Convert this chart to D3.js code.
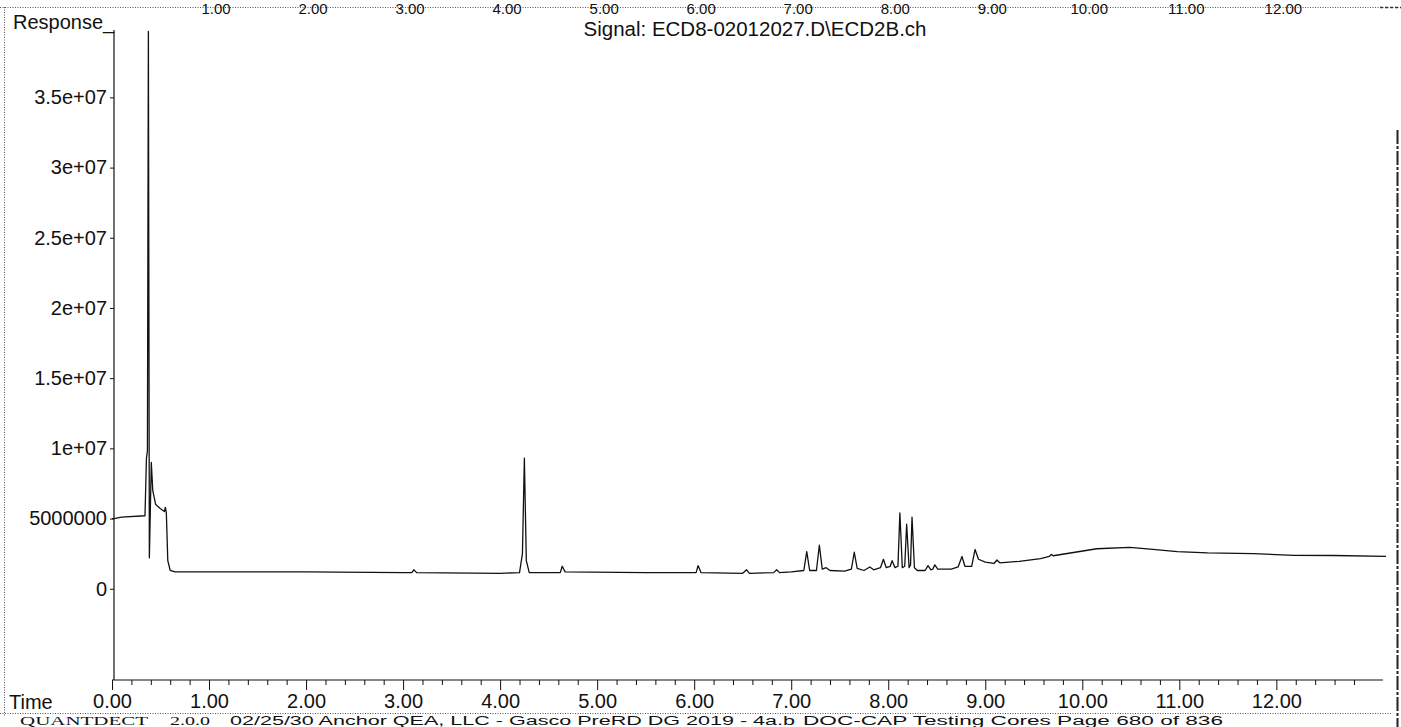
<!DOCTYPE html>
<html>
<head>
<meta charset="utf-8">
<script src="https://cdn.jsdelivr.net/npm/d3@7"></script>
<style>
  html, body { margin: 0; padding: 0; background: #fff; }
  svg { display: block; font-family: "Liberation Sans", Arial, sans-serif; }
</style>
</head>
<body>
<svg id="chart" width="1401" height="727"></svg>
<script>
// ---- data ----
const times = [
  0.00, 0.02, 0.10, 0.34, 0.355, 0.365, 0.375, 0.385, 0.405, 0.42, 0.45, 0.50, 0.54, 0.55, 0.56, 0.575, 0.60, 0.65,
  1.00, 2.00, 3.00, 3.09, 3.11, 3.14, 4.00, 4.20, 4.23, 4.25, 4.27, 4.30,
  4.62, 4.64, 4.67, 5.50, 6.02, 6.04, 6.07, 6.50, 6.54, 6.57, 6.82, 6.85, 6.88, 7.00,
  7.13, 7.16, 7.19, 7.26, 7.29, 7.32, 7.36, 7.40, 7.55, 7.62, 7.65, 7.68, 7.75, 7.81, 7.85,
  7.92, 7.95, 7.98, 8.02, 8.04, 8.07, 8.10, 8.12, 8.145, 8.17, 8.19, 8.215, 8.23, 8.245, 8.27,
  8.30, 8.38, 8.41, 8.44, 8.46, 8.48, 8.51, 8.65, 8.72, 8.76, 8.79, 8.86, 8.895, 8.93, 9.00,
  9.09, 9.12, 9.15, 9.35, 9.57, 9.66, 9.68, 9.70, 10.15, 10.49, 10.70, 10.98, 11.29, 11.76,
  12.18, 12.59, 13.13
];
const response = [
  5.0e6, 5.0e6, 5.1e6, 5.2e6, 9.3e6, 9.8e6, 3.97e7, 2.2e6, 9.0e6, 7.0e6, 6.0e6, 5.7e6, 5.5e6, 5.8e6, 5.4e6, 2.0e6, 1.3e6, 1.2e6,
  1.2e6, 1.2e6, 1.15e6, 1.15e6, 1.35e6, 1.15e6, 1.1e6, 1.15e6, 2.5e6, 9.3e6, 2.0e6, 1.15e6,
  1.15e6, 1.6e6, 1.2e6, 1.15e6, 1.15e6, 1.65e6, 1.15e6, 1.1e6, 1.35e6, 1.1e6, 1.15e6, 1.35e6, 1.15e6, 1.2e6,
  1.3e6, 2.65e6, 1.3e6, 1.3e6, 3.1e6, 1.4e6, 1.5e6, 1.3e6, 1.25e6, 1.4e6, 2.6e6, 1.45e6, 1.3e6, 1.55e6, 1.35e6,
  1.5e6, 2.1e6, 1.5e6, 1.6e6, 2.0e6, 1.5e6, 1.6e6, 5.4e6, 1.5e6, 1.6e6, 4.6e6, 1.5e6, 1.7e6, 5.1e6, 1.5e6,
  1.3e6, 1.3e6, 1.65e6, 1.35e6, 1.4e6, 1.7e6, 1.4e6, 1.4e6, 1.55e6, 2.3e6, 1.6e6, 1.6e6, 2.8e6, 2.1e6, 1.9e6,
  1.8e6, 2.05e6, 1.85e6, 1.95e6, 2.15e6, 2.3e6, 2.45e6, 2.35e6, 2.85e6, 2.95e6, 2.82e6, 2.65e6, 2.55e6, 2.5e6,
  2.38e6, 2.37e6, 2.3e6
];
const yTickValues = [0, 5e6, 1e7, 1.5e7, 2e7, 2.5e7, 3e7, 3.5e7];
const yTickLabels = ["0", "5000000", "1e+07", "1.5e+07", "2e+07", "2.5e+07", "3e+07", "3.5e+07"];
const xMajorTicks = [0, 1, 2, 3, 4, 5, 6, 7, 8, 9, 10, 11, 12];
const topCutLabels = ["1.00", "2.00", "3.00", "4.00", "5.00", "6.00", "7.00", "8.00", "9.00", "10.00", "11.00", "12.00"];
const topCutTimes = [1, 2, 3, 4, 5, 6, 7, 8, 9, 10, 11, 12];
const titleText = "Signal: ECD8-02012027.D\\ECD2B.ch";
const yAxisTitle = "Response_";
const xAxisTitle = "Time";
const footerParts = ["QUANTDECT", "2.0.0", "02/25/30 Anchor QEA, LLC - Gasco PreRD DG 2019 - 4a.b", "DOC-CAP Testing Cores Page 680 of 836"];

// ---- layout ----
const svg = d3.select("#chart");
const x = d3.scaleLinear().domain([0, 13.13]).range([112, 1386]);
const y = d3.scaleLinear().domain([-6.5e6, 3.98e7]).range([680, 30]);
const ink = "#111";

// dotted page borders
const dotted = svg.append("g").attr("stroke", "#555").attr("stroke-width", 1).attr("stroke-dasharray", "1,1.5").attr("fill", "none");
dotted.append("line").attr("x1", 0).attr("x2", 1401).attr("y1", 7.5).attr("y2", 7.5);
dotted.append("line").attr("x1", 4.5).attr("x2", 4.5).attr("y1", 7).attr("y2", 717);
dotted.append("line").attr("x1", 0).attr("x2", 1392).attr("y1", 713.5).attr("y2", 713.5);
svg.append("line").attr("x1", 1380).attr("x2", 1401).attr("y1", 7.5).attr("y2", 7.5)
  .attr("stroke", "#333").attr("stroke-width", 1.5).attr("stroke-dasharray", "3,2");
svg.append("line").attr("x1", 1397.5).attr("x2", 1397.5).attr("y1", 130).attr("y2", 727)
  .attr("stroke", "#222").attr("stroke-width", 2).attr("stroke-dasharray", "14,2,3,2");

// labels at very top (remnant of the previous chart's axis)
svg.append("g").selectAll("text").data(topCutTimes).join("text")
  .attr("x", d => x(d) + 7).attr("y", 14)
  .attr("text-anchor", "middle").attr("font-size", 15).attr("fill", ink)
  .text((d, i) => topCutLabels[i]);

// titles
svg.append("text").attr("x", 13).attr("y", 29).attr("font-size", 20).attr("fill", ink).text(yAxisTitle);
svg.append("text").attr("x", 755).attr("y", 36).attr("text-anchor", "middle").attr("font-size", 20.5).attr("fill", ink).text(titleText);
svg.append("text").attr("x", 9).attr("y", 709).attr("font-size", 20).attr("fill", ink).text(xAxisTitle);

// y axis
const yAxis = d3.axisLeft(y).tickValues(yTickValues).tickSize(4).tickPadding(3)
  .tickFormat((d, i) => yTickLabels[i]);
const gy = svg.append("g").attr("transform", "translate(114,0)").call(yAxis);
gy.select(".domain").remove();
gy.append("line").attr("x1", 0).attr("x2", 0).attr("y1", 30).attr("y2", 680).attr("stroke", ink).attr("stroke-width", 1.2);
gy.selectAll(".tick line").attr("stroke", ink);
gy.selectAll(".tick text").attr("font-size", 20).attr("font-family", "Liberation Sans, Arial, sans-serif").attr("fill", ink);

// x axis: minor ticks every 0.2 min, major each minute
const minorTicks = d3.range(0, 66).map(i => +(i * 0.2).toFixed(1)).filter(v => Math.abs(v - Math.round(v)) > 1e-6 && v <= 13.1);
const gxMinor = svg.append("g").attr("transform", "translate(0,680)")
  .call(d3.axisBottom(x).tickValues(minorTicks).tickSize(5).tickFormat(""));
gxMinor.select(".domain").remove();
gxMinor.selectAll(".tick line").attr("stroke", ink);
const gx = svg.append("g").attr("transform", "translate(0,680)")
  .call(d3.axisBottom(x).tickValues(xMajorTicks).tickSize(10).tickPadding(4).tickFormat(d3.format(".2f")));
gx.select(".domain").remove();
gx.append("line").attr("x1", 112).attr("x2", 1383).attr("y1", 0).attr("y2", 0).attr("stroke", ink).attr("stroke-width", 1.2);
gx.selectAll(".tick line").attr("stroke", ink);
gx.selectAll(".tick text").attr("font-size", 20).attr("font-family", "Liberation Sans, Arial, sans-serif").attr("fill", ink);

// trace
const pts = times.map((t, i) => [t, response[i]]);
const line = d3.line().x(d => x(d[0])).y(d => y(d[1])).curve(d3.curveLinear);
svg.append("path").datum(pts).attr("d", line).attr("fill", "none")
  .attr("stroke", ink).attr("stroke-width", 1.3).attr("stroke-linejoin", "round");

// footer line at the bottom edge of the page
const foot = svg.append("g").attr("fill", ink);
foot.append("text").attr("x", 20).attr("y", 724.5).attr("font-size", 12)
  .attr("font-family", "Liberation Serif, serif").attr("textLength", 128).attr("lengthAdjust", "spacingAndGlyphs").text(footerParts[0]);
foot.append("text").attr("x", 170).attr("y", 724.5).attr("font-size", 12)
  .attr("font-family", "Liberation Serif, serif").attr("textLength", 40).attr("lengthAdjust", "spacingAndGlyphs").text(footerParts[1]);
foot.append("text").attr("x", 230).attr("y", 724.5).attr("font-size", 12)
  .attr("textLength", 565).attr("lengthAdjust", "spacingAndGlyphs").text(footerParts[2]);
foot.append("text").attr("x", 803).attr("y", 724.5).attr("font-size", 12)
  .attr("textLength", 420).attr("lengthAdjust", "spacingAndGlyphs").text(footerParts[3]);
</script>
</body>
</html>
